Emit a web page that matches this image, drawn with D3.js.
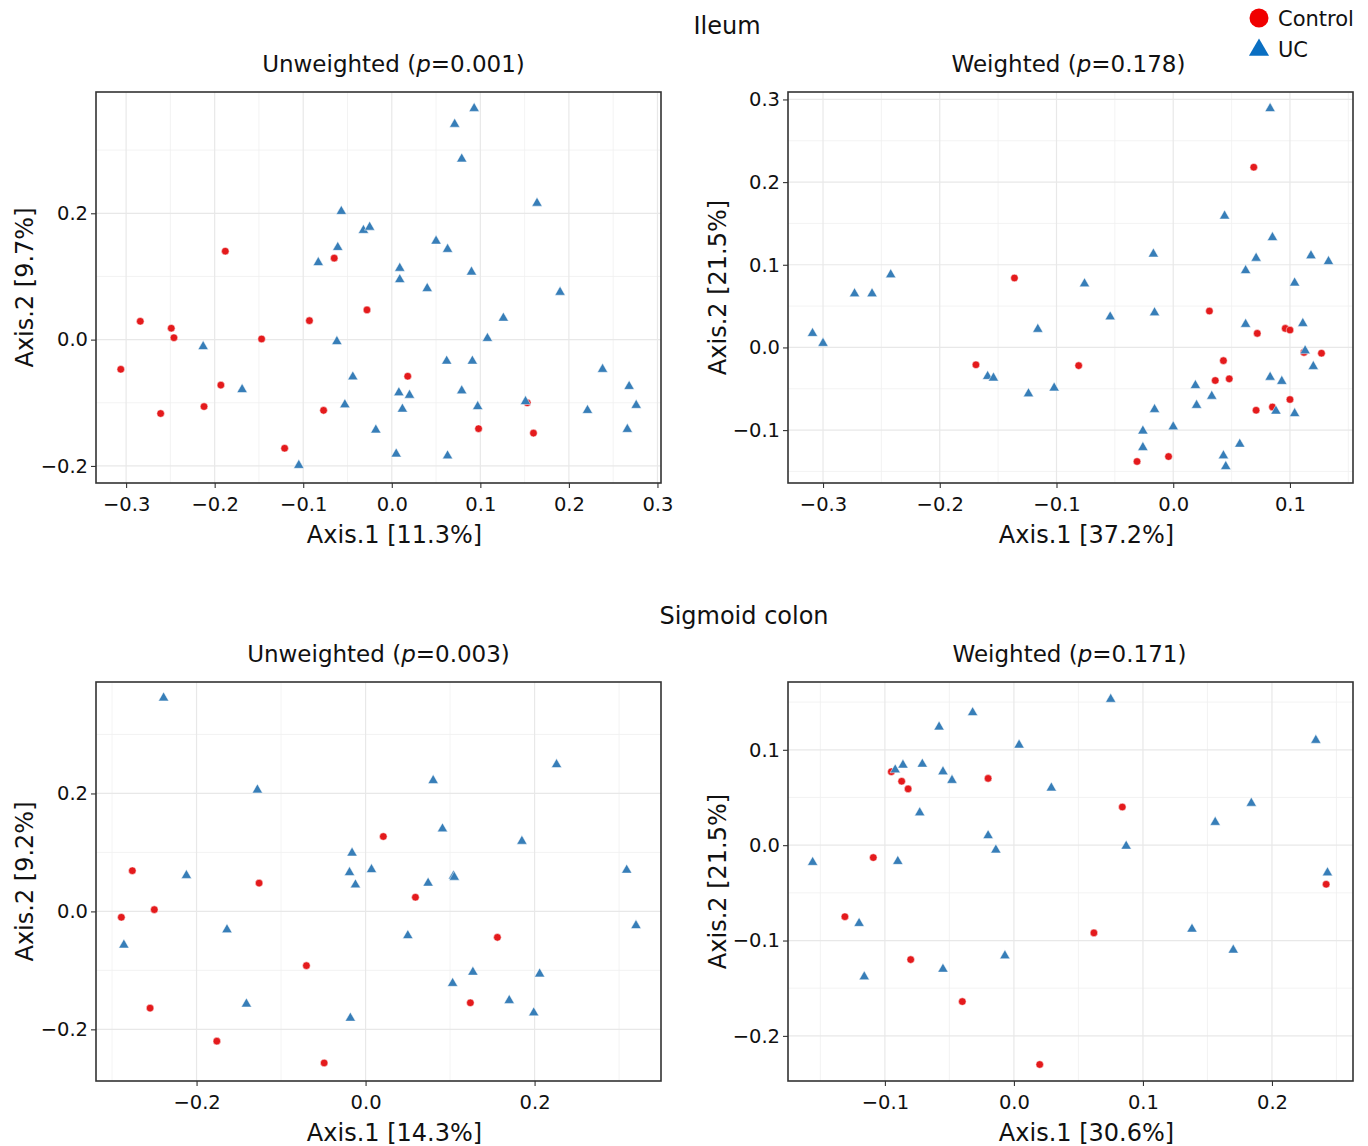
<!DOCTYPE html>
<html>
<head>
<meta charset="utf-8">
<script src="https://cdn.jsdelivr.net/npm/d3@7"></script>
<style>
  body { margin: 0; background: #fff; }
  svg { display: block; font-family: 'DejaVu Sans', Verdana, sans-serif; }
  .grid-major { stroke: #e8e8e8; stroke-width: 1.2; }
  .grid-minor { stroke: #f0f0f0; stroke-width: 0.8; }
</style>
</head>
<body>
<div id="plot"></div>
<script>
// PCoA coordinates: [Axis.1, Axis.2]
var ileumUnwControl = [
  [-0.306, -0.047], [-0.284, 0.029], [-0.261, -0.117], [-0.249, 0.018], [-0.246, 0.003],
  [-0.212, -0.106], [-0.193, -0.072], [-0.188, 0.140], [-0.147, 0.001], [-0.121, -0.172],
  [-0.093, 0.030], [-0.077, -0.112], [-0.065, 0.129], [-0.028, 0.047], [0.018, -0.058],
  [0.098, -0.141], [0.153, -0.100], [0.160, -0.148]
]
var ileumUnwUC = [
  [-0.213, -0.011], [-0.169, -0.079], [-0.105, -0.199], [-0.062, -0.003], [-0.044, -0.059],
  [-0.053, -0.103], [-0.018, -0.143], [-0.057, 0.203], [-0.032, 0.173], [-0.025, 0.178],
  [-0.061, 0.146], [-0.083, 0.122], [0.093, 0.366], [0.071, 0.341], [0.079, 0.286],
  [0.164, 0.216], [0.050, 0.156], [0.063, 0.143], [0.009, 0.113], [0.009, 0.095],
  [0.090, 0.107], [0.040, 0.081], [0.190, 0.075], [0.126, 0.034], [0.108, 0.002],
  [0.062, -0.034], [0.091, -0.034], [0.238, -0.047], [0.008, -0.084], [0.020, -0.088],
  [0.079, -0.081], [0.012, -0.110], [0.097, -0.106], [0.151, -0.098], [0.268, -0.074],
  [0.276, -0.104], [0.221, -0.112], [0.266, -0.142], [0.005, -0.181], [0.063, -0.184]
]
var ileumWControl = [
  [-0.136, 0.084], [0.069, 0.218], [-0.169, -0.021], [-0.081, -0.022], [0.031, 0.044],
  [0.072, 0.017], [0.096, 0.023], [0.100, 0.021], [0.112, -0.006], [0.127, -0.007],
  [0.043, -0.016], [0.036, -0.040], [0.048, -0.038], [0.100, -0.063], [0.085, -0.072],
  [0.071, -0.076], [-0.031, -0.138], [-0.004, -0.132]
]
var ileumWUC = [
  [-0.242, 0.088], [0.083, 0.289], [0.044, 0.159], [0.085, 0.133], [-0.017, 0.113],
  [0.071, 0.108], [0.062, 0.093], [0.118, 0.111], [0.133, 0.104], [0.104, 0.078],
  [-0.076, 0.077], [-0.273, 0.065], [-0.258, 0.065], [-0.309, 0.017], [-0.300, 0.005],
  [-0.159, -0.035], [-0.154, -0.037], [-0.124, -0.056], [-0.102, -0.049], [-0.116, 0.022],
  [-0.054, 0.037], [-0.016, 0.042], [0.062, 0.028], [0.111, 0.029], [0.113, -0.004],
  [0.120, -0.023], [0.083, -0.036], [0.093, -0.041], [0.019, -0.046], [0.033, -0.059],
  [0.020, -0.070], [-0.016, -0.075], [0.088, -0.077], [0.104, -0.080], [-0.026, -0.101],
  [0.000, -0.096], [-0.026, -0.121], [0.057, -0.117], [0.043, -0.131], [0.045, -0.144]
]
var sigmoidUnwControl = [
  [-0.276, 0.069], [-0.250, 0.003], [-0.289, -0.010], [-0.126, 0.048], [-0.255, -0.164],
  [-0.176, -0.220], [-0.070, -0.092], [-0.049, -0.257], [0.021, 0.127], [0.059, 0.024],
  [0.156, -0.044], [0.124, -0.155]
]
var sigmoidUnwUC = [
  [-0.239, 0.362], [-0.128, 0.206], [-0.212, 0.061], [-0.286, -0.057], [-0.164, -0.031],
  [-0.141, -0.157], [-0.016, 0.099], [-0.019, 0.066], [-0.012, 0.045], [0.007, 0.071],
  [-0.018, -0.181], [0.080, 0.222], [0.091, 0.140], [0.074, 0.048], [0.104, 0.060],
  [0.105, 0.058], [0.050, -0.041], [0.127, -0.103], [0.103, -0.122], [0.170, -0.151],
  [0.206, -0.106], [0.199, -0.172], [0.185, 0.119], [0.226, 0.249], [0.309, 0.070],
  [0.320, -0.024]
]
var sigmoidWControl = [
  [-0.095, 0.077], [-0.087, 0.067], [-0.082, 0.059], [-0.020, 0.070], [0.084, 0.040],
  [-0.109, -0.013], [-0.131, -0.075], [-0.080, -0.120], [0.062, -0.092], [-0.040, -0.164],
  [0.020, -0.230], [0.242, -0.041]
]
var sigmoidWUC = [
  [-0.156, -0.018], [-0.120, -0.082], [-0.116, -0.138], [-0.090, -0.017], [-0.092, 0.079],
  [-0.086, 0.084], [-0.071, 0.085], [-0.073, 0.034], [-0.058, 0.124], [-0.055, 0.077],
  [-0.048, 0.068], [-0.032, 0.139], [0.004, 0.105], [-0.020, 0.010], [-0.014, -0.005],
  [0.029, 0.060], [-0.055, -0.130], [-0.007, -0.116], [0.075, 0.153], [0.087, -0.001],
  [0.156, 0.024], [0.184, 0.044], [0.138, -0.088], [0.170, -0.110], [0.234, 0.110],
  [0.243, -0.029]
]

var groups = ['Control', 'UC']
var sectionTitles = ['Ileum', 'Sigmoid colon']

var panels = [
  { title: 'Unweighted', p: '0.001', xlab: 'Axis.1 [11.3%]', ylab: 'Axis.2 [9.7%]',
    control: ileumUnwControl, uc: ileumUnwUC,
    xTicks: [-0.3, -0.2, -0.1, 0, 0.1, 0.2, 0.3], yTicks: [-0.2, 0, 0.2],
    xDomain: [-0.334, 0.304], yDomain: [-0.227, 0.392], left: 96, top: 92, h: 391, titleShift: 15 },
  { title: 'Weighted', p: '0.178', xlab: 'Axis.1 [37.2%]', ylab: 'Axis.2 [21.5%]',
    control: ileumWControl, uc: ileumWUC,
    xTicks: [-0.3, -0.2, -0.1, 0, 0.1], yTicks: [-0.1, 0, 0.1, 0.2, 0.3],
    xDomain: [-0.330, 0.154], yDomain: [-0.164, 0.309], left: 788, top: 92, h: 391, titleShift: -2 },
  { title: 'Unweighted', p: '0.003', xlab: 'Axis.1 [14.3%]', ylab: 'Axis.2 [9.2%]',
    control: sigmoidUnwControl, uc: sigmoidUnwUC,
    xTicks: [-0.2, 0, 0.2], yTicks: [-0.2, 0, 0.2],
    xDomain: [-0.319, 0.3496], yDomain: [-0.2876, 0.389], left: 96, top: 682, h: 399, titleShift: 0 },
  { title: 'Weighted', p: '0.171', xlab: 'Axis.1 [30.6%]', ylab: 'Axis.2 [21.5%]',
    control: sigmoidWControl, uc: sigmoidWUC,
    xTicks: [-0.1, 0, 0.1, 0.2], yTicks: [-0.2, -0.1, 0, 0.1],
    xDomain: [-0.1751, 0.2628], yDomain: [-0.2473, 0.1711], left: 788, top: 682, h: 399, titleShift: -1 }
]

var panelWidth = 565
var red = '#e41a1c'
var blue = '#377eb8'
var fmt = d3.format('.1f')

var svg = d3
  .select('#plot')
  .append('svg')
  .attr('width', 1368)
  .attr('height', 1146)

// minor grid lines sit half way between majors
function minorTicks(ticks, domain) {
  var step = ticks[1] - ticks[0]
  var out = []
  for (var i = -1; i < ticks.length; i++) {
    var v = (i < 0 ? ticks[0] - step : ticks[i]) + step / 2
    if (v > domain[0] && v < domain[1]) out.push(v)
  }
  return out
}

panels.forEach(function(p) {
  var w = panelWidth
  var h = p.h
  var x = d3.scaleLinear().domain(p.xDomain).range([0, w])
  var y = d3.scaleLinear().domain(p.yDomain).range([h, 0])

  var g = svg
    .append('g')
    .attr('transform', 'translate(' + p.left + ',' + p.top + ')')

  g.append('g')
    .selectAll('line')
    .data(minorTicks(p.xTicks, p.xDomain))
    .join('line')
    .attr('class', 'grid-minor')
    .attr('x1', function(d) { return x(d) })
    .attr('x2', function(d) { return x(d) })
    .attr('y1', 0)
    .attr('y2', h)
  g.append('g')
    .selectAll('line')
    .data(minorTicks(p.yTicks, p.yDomain))
    .join('line')
    .attr('class', 'grid-minor')
    .attr('y1', function(d) { return y(d) })
    .attr('y2', function(d) { return y(d) })
    .attr('x1', 0)
    .attr('x2', w)
  g.append('g')
    .selectAll('line')
    .data(p.xTicks)
    .join('line')
    .attr('class', 'grid-major')
    .attr('x1', function(d) { return x(d) })
    .attr('x2', function(d) { return x(d) })
    .attr('y1', 0)
    .attr('y2', h)
  g.append('g')
    .selectAll('line')
    .data(p.yTicks)
    .join('line')
    .attr('class', 'grid-major')
    .attr('y1', function(d) { return y(d) })
    .attr('y2', function(d) { return y(d) })
    .attr('x1', 0)
    .attr('x2', w)

  var xAxis = d3.axisBottom(x).tickValues(p.xTicks).tickFormat(fmt).tickSize(5).tickSizeOuter(0)
  var yAxis = d3.axisLeft(y).tickValues(p.yTicks).tickFormat(fmt).tickSize(5).tickSizeOuter(0)

  var gx = g.append('g')
    .attr('transform', 'translate(0,' + h + ')')
    .call(xAxis)
  var gy = g.append('g').call(yAxis)
  ;[gx, gy].forEach(function(a) {
    a.select('.domain').remove()
    a.selectAll('.tick line').attr('stroke', '#333').attr('stroke-width', 1.1)
    a.selectAll('.tick text')
      .attr('fill', '#111')
      .style('font-size', '19.5px')
      .style('font-family', "'DejaVu Sans', sans-serif")
  })
  gx.selectAll('.tick text').attr('y', 14).attr('dy', '0.71em')
  gy.selectAll('.tick text').attr('x', -8)

  var pts = g.append('g')
  pts.selectAll('circle')
    .data(p.control)
    .join('circle')
    .attr('cx', function(d) { return x(d[0]) })
    .attr('cy', function(d) { return y(d[1]) })
    .attr('r', 3.8)
    .attr('fill', red)
    .attr('stroke', '#fff')
    .attr('stroke-width', 0.5)
  pts.selectAll('path')
    .data(p.uc)
    .join('path')
    .attr('d', d3.symbol().type(d3.symbolTriangle).size(46))
    .attr('transform', function(d) { return 'translate(' + x(d[0]) + ',' + y(d[1]) + ')' })
    .attr('fill', blue)
    .attr('stroke', '#fff')
    .attr('stroke-width', 0.5)

  g.append('rect')
    .attr('width', w)
    .attr('height', h)
    .attr('fill', 'none')
    .attr('stroke', '#333')
    .attr('stroke-width', 1.6)

  var t = g.append('text')
    .attr('x', w / 2 + p.titleShift)
    .attr('y', -20)
    .attr('text-anchor', 'middle')
    .style('font-size', '23px')
    .attr('fill', '#111')
  t.append('tspan').text(p.title + ' (')
  t.append('tspan').style('font-style', 'italic').text('p')
  t.append('tspan').text('=' + p.p + ')')

  g.append('text')
    .attr('x', w / 2 + 16)
    .attr('y', h + 60)
    .attr('text-anchor', 'middle')
    .style('font-size', '24px')
    .attr('fill', '#111')
    .text(p.xlab)

  g.append('text')
    .attr('transform', 'translate(' + (p.left < 400 ? 33 - p.left : 726 - p.left) + ',' + h / 2 + ') rotate(-90)')
    .attr('text-anchor', 'middle')
    .style('font-size', '24px')
    .attr('fill', '#111')
    .text(p.ylab)
})

svg.append('text')
  .attr('x', 727)
  .attr('y', 34)
  .attr('text-anchor', 'middle')
  .style('font-size', '24px')
  .attr('fill', '#111')
  .text(sectionTitles[0])
svg.append('text')
  .attr('x', 744)
  .attr('y', 624)
  .attr('text-anchor', 'middle')
  .style('font-size', '24px')
  .attr('fill', '#111')
  .text(sectionTitles[1])

// legend
var legend = svg.append('g').attr('transform', 'translate(1259,0)')
legend.append('circle')
  .attr('cx', 0)
  .attr('cy', 18)
  .attr('r', 9.5)
  .attr('fill', '#f00000')
legend.append('path')
  .attr('d', d3.symbol().type(d3.symbolTriangle).size(175))
  .attr('transform', 'translate(0,50)')
  .attr('fill', '#0a6fc2')
legend.selectAll('text.lg')
  .data(groups)
  .join('text')
  .attr('class', 'lg')
  .attr('x', 19)
  .attr('y', function(d, i) { return 26 + i * 31 })
  .style('font-size', '21px')
  .attr('fill', '#111')
  .text(function(d) { return d })
</script>
</body>
</html>
